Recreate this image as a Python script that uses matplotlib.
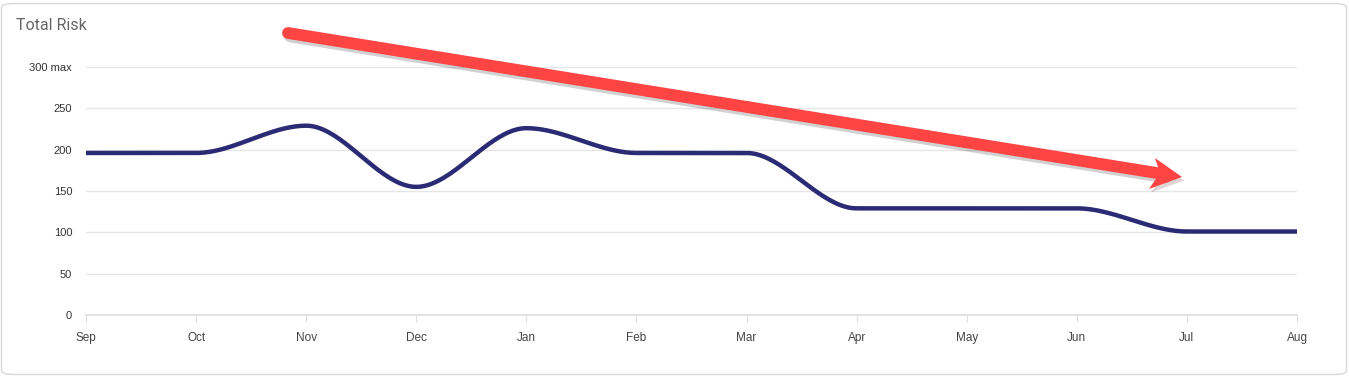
import numpy as np
import matplotlib
matplotlib.use("Agg")
import matplotlib.pyplot as plt
from matplotlib.patches import FancyBboxPatch, Polygon
from matplotlib.lines import Line2D
import matplotlib.patheffects as pe

MONTHS = ["Sep", "Oct", "Nov", "Dec", "Jan", "Feb", "Mar", "Apr", "May", "Jun", "Jul", "Aug"]
RISK = [196, 196, 229, 155, 226, 196, 196, 129, 129, 129, 101, 101]
Y_TICKS = [0, 50, 100, 150, 200, 250, 300]
Y_LABELS = ["0", "50", "100", "150", "200", "250", "300 max"]

W, H = 1349, 376


def monotone_curve(y, steps=40):
    """Fritsch-Carlson monotone cubic, used only to draw the smooth line."""
    y = np.asarray(y, float)
    n = len(y)
    x = np.arange(n, dtype=float)
    d = np.diff(y)
    m = np.zeros(n)
    m[0], m[-1] = d[0], d[-1]
    for i in range(1, n - 1):
        if d[i - 1] * d[i] <= 0:
            m[i] = 0
        else:
            m[i] = (d[i - 1] + d[i]) / 2
    for i in range(n - 1):
        if d[i] == 0:
            m[i] = m[i + 1] = 0
            continue
        a, b = m[i] / d[i], m[i + 1] / d[i]
        s = a * a + b * b
        if s > 9:
            t = 3 / np.sqrt(s)
            m[i], m[i + 1] = t * a * d[i], t * b * d[i]
    xs, ys = [], []
    for i in range(n - 1):
        t = np.linspace(0, 1, steps, endpoint=(i == n - 2))
        h00 = 2 * t**3 - 3 * t**2 + 1
        h10 = t**3 - 2 * t**2 + t
        h01 = -2 * t**3 + 3 * t**2
        h11 = t**3 - t**2
        xs.append(x[i] + t)
        ys.append(h00 * y[i] + h10 * m[i] + h01 * y[i + 1] + h11 * m[i + 1])
    return np.concatenate(xs), np.concatenate(ys)


fig = plt.figure(figsize=(W / 100, H / 100), dpi=100)
fig.patch.set_facecolor("white")

# card border
card = FancyBboxPatch((1.5 / W, 1.5 / H), (W - 4) / W, (H - 5) / H,
                      boxstyle="round,pad=0,rounding_size=0.01",
                      transform=fig.transFigure, facecolor="white",
                      edgecolor="#d9d9d9", linewidth=1, zorder=-10)
fig.patches.append(card)

fig.text(16 / W, 1 - 26 / H, "Total Risk", fontsize=11.5, color="#666666",
         family="Roboto", va="center", ha="left")

ax = fig.add_axes([86 / W, 1 - 315 / H, (1297 - 86) / W, (315 - 67) / H])
xs, ys = monotone_curve(RISK)
ax.plot(xs, ys, color="#2b2a74", lw=3.2, solid_capstyle="butt", zorder=3)

ax.set_xlim(0, len(MONTHS) - 1)
ax.set_ylim(0, 300)
ax.set_xticks(range(len(MONTHS)))
ax.set_xticklabels(MONTHS, fontsize=8.5, color="#444444", family="Liberation Sans")
ax.set_yticks(Y_TICKS)
ax.set_yticklabels(Y_LABELS, fontsize=8, color="#333333", family="Liberation Sans")
ax.tick_params(axis="y", length=0, pad=10)
ax.tick_params(axis="x", length=5, color="#dddddd", pad=7)
ax.grid(axis="y", color="#e6e6e6", lw=1)
ax.set_axisbelow(True)
for s in ["top", "right", "left"]:
    ax.spines[s].set_visible(False)
ax.spines["bottom"].set_color("#dddddd")
ax.spines["bottom"].set_linewidth(1.2)
ax.set_facecolor("none")


# red trend arrow (figure pixel coords, y from top)
def fp(x, y):
    return (x / W, 1 - y / H)


shadow = [pe.SimpleLineShadow(offset=(1.5, -2.5), shadow_color="black", alpha=0.18), pe.Normal()]
(x0, y0), (x1, y1) = fp(288, 33), fp(1163, 174)
shaft = Line2D([x0, x1], [y0, y1], transform=fig.transFigure, color="#ff4444",
               lw=8.5, solid_capstyle="round", path_effects=shadow, zorder=5)
fig.lines.append(shaft)
head = Polygon([fp(1182, 177), fp(1155, 158), fp(1160, 173), fp(1149, 189)], closed=True,
               transform=fig.transFigure, facecolor="#ff4444", edgecolor="none",
               path_effects=[pe.SimplePatchShadow(offset=(1.5, -2.5), alpha=0.18), pe.Normal()],
               zorder=5)
fig.patches.append(head)

fig.savefig("out.png", dpi=100, facecolor="white")
